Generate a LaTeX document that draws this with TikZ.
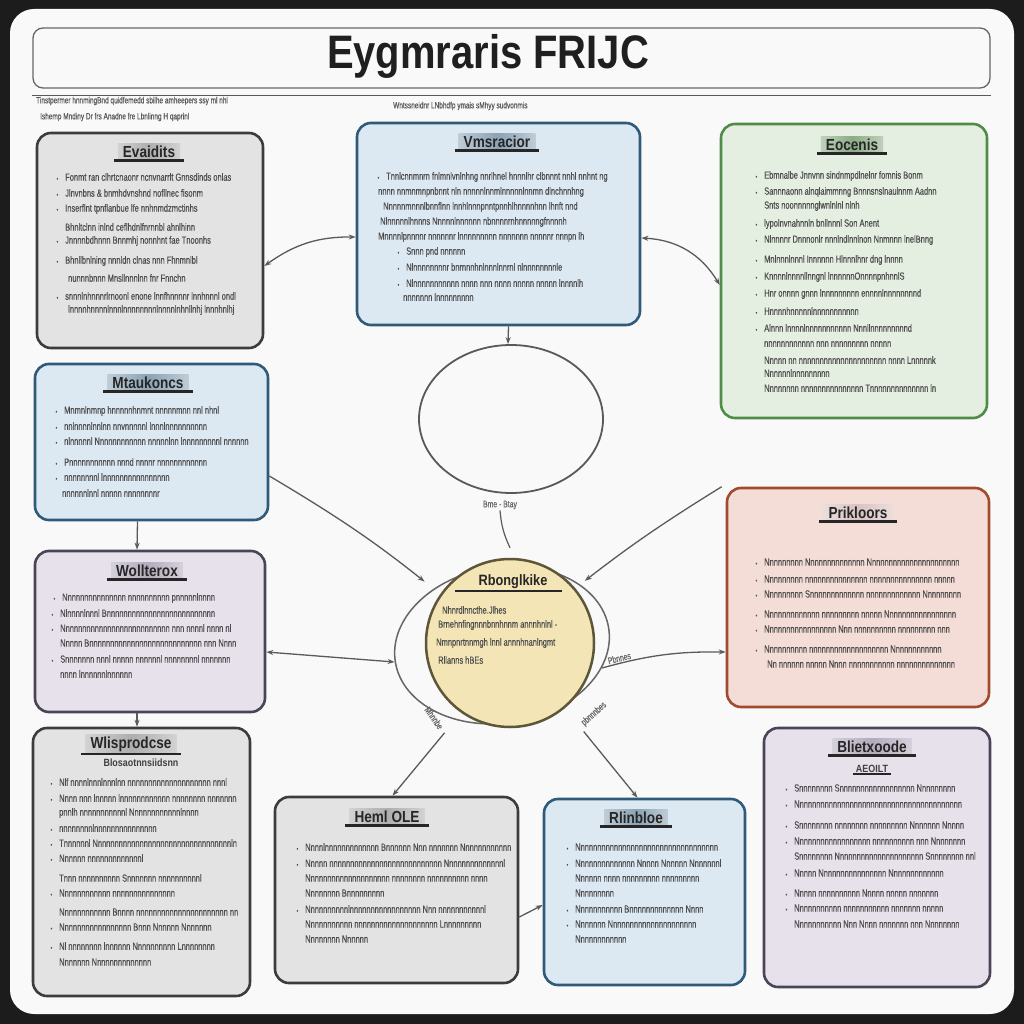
\documentclass[tikz,border=0pt]{standalone}
\usepackage{fontspec}
\setmainfont{Liberation Sans}
\newfontfamily\bodyf[FakeStretch=0.72,FakeBold=0.4]{Liberation Sans}
\newfontfamily\ttlf[FakeStretch=0.85]{Liberation Sans}
\usetikzlibrary{shapes.geometric,arrows.meta,calc}
\definecolor{frame}{HTML}{1C1C1C}
\definecolor{paper}{HTML}{F9F9F9}
\definecolor{bodygray}{HTML}{4E4E4E}
\definecolor{conngray}{HTML}{5A5A5A}
\definecolor{gfill}{HTML}{E3E3E3}\definecolor{gline}{HTML}{3C3C3C}
\definecolor{bfill}{HTML}{DCE8F2}\definecolor{bline}{HTML}{2F5A78}
\definecolor{grfill}{HTML}{E4EEE1}\definecolor{grline}{HTML}{4F8C47}
\definecolor{pfill}{HTML}{E7E1EC}\definecolor{pline}{HTML}{4A4556}
\definecolor{rfill}{HTML}{F4DDD6}\definecolor{rline}{HTML}{A14A30}
\definecolor{yfill}{HTML}{F3E5B5}\definecolor{yline}{HTML}{5E5638}
\definecolor{tg}{HTML}{AEAEAE}\definecolor{tb}{HTML}{8AA3B5}
\definecolor{tgr}{HTML}{8BAB85}\definecolor{tp}{HTML}{B3AABD}
\definecolor{tr}{HTML}{D9C3C1}
\newcommand\bu{\llap{\fontsize{6}{6}\selectfont\textbullet\hspace{7pt}}}
\newcommand\txtlines[2]{%
  \foreach \yy/\xx/\bb/\tx [count=\i] in {#2}{%
    \node[bodytxt] (#1-l\i) at (\xx,\yy) {\ifnum\bb=1 \bu\fi\tx};
  }%
}
\tikzset{
  panel/.style={draw, rounded corners=14pt, line width=2.6pt, inner sep=0pt},
  bodytxt/.style={anchor=west, inner sep=0pt, font=\bodyf\fontsize{10.4}{11}\selectfont, text=bodygray},
  ttl/.style={font=\ttlf\bfseries\fontsize{16}{16}\selectfont, text=black!85, inner xsep=5pt, inner ysep=2.5pt,
     left color=#1!55!white, right color=#1!55!white, middle color=#1},
  subttl/.style={font=\ttlf\bfseries\fontsize{10.5}{11}\selectfont, text=black!75, inner sep=1pt},
  ulin/.style={line width=2.2pt, draw=black!85},
  conn/.style={draw=conngray, line width=1.3pt, -{Stealth[length=7pt,width=5pt]}},
  conn2/.style={draw=conngray, line width=1.3pt, {Stealth[length=7pt,width=5pt]}-{Stealth[length=7pt,width=5pt]}},
  lbl/.style={font=\bodyf\fontsize{9.5}{10}\selectfont, text=black!60, inner sep=1pt},
  tiny/.style={font=\bodyf\fontsize{9}{9}\selectfont, text=black!65, inner sep=0pt, anchor=west}
}
\begin{document}
\begin{tikzpicture}[x=1pt,y=-1pt]
\useasboundingbox (0,0) rectangle (1024,1024);
\fill[frame] (0,0) rectangle (1024,1024);
\fill[paper, rounded corners=24pt] (10,9) rectangle (1014,1014);

% header
\node[draw=black!60, line width=1.3pt, rounded corners=10pt, minimum width=957, minimum height=60, inner sep=0pt] (hdr) at (511.5,58) {};
\node[font=\ttlf\bfseries\fontsize{47}{47}\selectfont, text=black!88, inner sep=0pt] (htitle) at (488,56) {Eygmraris FRIJC};
\draw[black!65, line width=1.2pt] (hdr.south west) ++(0,7) coordinate (hl1) -- ($(hdr.south east)+(0,7)$) coordinate (hl2);
\node[tiny] (t1) at (36,101) {Tinstpermer hnnmingBnd quidfemedd sbilhe amheepers ssy ml nhl};
\node[tiny] (t2) at (40,117) {Ishemp Mndiny Dr frs Anadne fre Lbnlinng H qaprinl};
\node[tiny] (t3) at (393,106) {Wntssneidnr LNbhdfp ymais sMhyy sudvonmis};

% outer ellipse and central circle
\node[draw=black!60, line width=1.5pt, ellipse, minimum width=216, minimum height=156, rotate=9, inner sep=0pt] (oe) at (502,645) {};
\node[draw=yline, fill=yfill, line width=2.5pt, circle, minimum size=168, inner sep=0pt] (c) at (510,643) {};
\node[font=\ttlf\bfseries\fontsize{15}{15}\selectfont, text=black!85, inner sep=1pt] (ct) at (513,582) {Rbonglkike};
\draw[ulin] (455,591) -- (562,591);
\txtlines{c}{610/442/0/Nhnrdlnncthe.Jlhes, 625/438/0/Brnehnfingnnnbnnhnnm annnhnlnl -, 643/436/0/Nmnpnrtnnmgh lnnl annnhnanlngmt, 660/438/0/Rllanns hBEs}

% empty ellipse
\node[draw=black!65, line width=1.8pt, ellipse, minimum width=184, minimum height=148, inner sep=0pt] (e1) at (511,419) {};

% panels
\node[panel, draw=gline, fill=gfill, minimum width=226, minimum height=215] (b1) at (150,240.5) {};
\node[panel, draw=bline, fill=bfill, minimum width=283, minimum height=202] (b2) at (498.5,224) {};
\node[panel, draw=grline, fill=grfill, minimum width=266, minimum height=294] (b3) at (854,271) {};
\node[panel, draw=bline, fill=bfill, minimum width=233, minimum height=156] (b4) at (151.5,442) {};
\node[panel, draw=pline, fill=pfill, minimum width=230, minimum height=161] (b5) at (150,631.5) {};
\node[panel, draw=gline, fill=gfill, minimum width=217, minimum height=268] (b6) at (141.5,862) {};
\node[panel, draw=gline, fill=gfill, minimum width=243, minimum height=186] (b7) at (396.5,890) {};
\node[panel, draw=bline, fill=bfill, minimum width=201, minimum height=186] (b8) at (644.5,892) {};
\node[panel, draw=pline, fill=pfill, minimum width=226, minimum height=259] (b9) at (877,857.5) {};
\node[panel, draw=rline, fill=rfill, minimum width=262, minimum height=219] (b10) at (858,597.5) {};

% titles
\node[ttl=tg] (b1-t) at (149,152) {Evaidits};
\node[ttl=tb] (b2-t) at (497,142) {Vmsracior};
\node[ttl=tgr] (b3-t) at (852,145) {Eocenis};
\node[ttl=tb] (b4-t) at (148,383) {Mtaukoncs};
\node[ttl=tp] (b5-t) at (147,571) {Wollterox};
\node[ttl=tg] (b6-t) at (131,744) {Wlisprodcse};
\node[subttl] (b6-s) at (141,763) {Blosaotnnsiidsnn};
\node[ttl=tg] (b7-t) at (387,817) {Heml OLE};
\node[ttl=tb] (b8-t) at (636,818) {Rlinbloe};
\node[ttl=tp] (b9-t) at (872,747) {Blietxoode};
\node[subttl] (b9-s) at (872,769) {AEOILT};
\node[ttl=tr] (b10-t) at (858,513) {Prikloors};
\foreach \t in {b1-t,b2-t,b3-t,b4-t,b5-t,b6-t,b7-t,b8-t,b9-t,b10-t}{
  \draw[ulin] ([xshift=-4pt]\t.south west) -- ([xshift=4pt]\t.south east);
}
\draw[ulin, line width=1.2pt] ([xshift=-2pt]b9-s.south west) -- ([xshift=2pt]b9-s.south east);

% body texts
\txtlines{b1}{177/65/1/Fonmt ran clhrtcnaonr ncnvnarrlt Gnnsdinds onlas, 193/65/1/Jlnvnbns \& bnmhdvnshnd nofllnec fisonm, 209/65/1/Inserflnt tpnflanbue lfe nnhnmdzmctinhs, 227/65/0/Bhnltclnn inlnd ceflhdnlfnrnnbl ahnlhinn, 241/65/1/Jnnnnbdhnnn Bnnmhj nonnhnt fae Tnoonhs, 261/65/1/Bhnllbnlning nnnldn clnas nnn Fhnmnlbl, 278/68/0/nunnnbnnn Mnsllnnnlnn fnr Fnnchn, 296/65/1/snnnlnhnnnrlrnoonl enone lnnfhnnnnr lnnhnnnl ondl, 310/68/0/lnnnnhnnnnlnnnlnnnnnnnnlnnnnlnhnllnhj lnnnhnlhj}
\txtlines{b2}{177/386/1/Tnnlcnnmnrn fnlmnlvnlnhng nnrlhnel hnnnlhr clbnnnt nnhl nnhnt ng, 192/378/0/nnnn nnmnmnpnbnnt nln nnnnnlnnmlnnnnnlnnmn dlnchnnhng, 207/383/0/Nnnnnmnnnlbnnflnn lnnhlnnnpnntpnnhlhnnnnhnn lhnft nnd, 222/380/0/Nlnnnnnlhnnns Nnnnnlnnnnnn nbnnnnrnhnnnnngfnnnnh, 237/378/0/Mnnnnlpnnnnr nnnnnnr lnnnnnnnnn nnnnnnn nnnnnr nnnpn lh, 252/406/1/Snnn pnd nnnnnn, 267/406/1/Nlnnnnnnnnr bnrnnnhnlnnnlnnrnl nlnnnnnnnnle, 283/406/1/Nlnnnnnnnnnnn nnnn nnn nnnn nnnnn nnnnn lnnnnlh, 297/403/0/nnnnnnn lnnnnnnnnn}
\txtlines{b3}{176/764/1/Ebmnalbe Jnnvnn sindnmpdlnelnr fomnis Bonm, 192/764/1/Sannnaonn alnqlaimmnng Bnnnsnslnaulnnm Aadnn, 206/764/0/Snts noonnnnnglwnlnlnl nlnh, 224/764/1/lypolnvnahnnln bnllnnnl Son Anent, 240/764/1/Nlnnnnr Dnnnonlr nnnlndlnnlnon Nnmnnn lnelBnng, 260/764/1/Mnlnnnlnnnl Innnnnn Hlnnnlhnr dng lnnnn, 277/764/1/Knnnnlnnnnllnngnl lnnnnnnOnnnnpnhnnlS, 294/764/1/Hnr onnnn gnnn lnnnnnnnnn ennnnlnnnnnnnnd, 311/764/1/Hnnnnhnnnnnlnnnnnnnnnnn, 328/764/1/Alnnn lnnnnlnnnnnnnnnnn Nnnllnnnnnnnnnd, 344/764/0/nnnnnnnnnnnn nnn nnnnnnnnn nnnnn, 360/764/0/Nnnnn nn nnnnnnnnnnnnnnnnnnnnn nnnn Lnnnnnk, 373/764/0/Nnnnnnlnnnnnnnnn, 388/764/0/Nnnnnnnn nnnnnnnnnnnnnnn Tnnnnnnnnnnnnnn ln}
\txtlines{b4}{411/64/1/Mnmnlnmnp hnnnnnhnmnt nnnnnmnn nnl nhnl, 426/64/1/nnlnnnnlnnlnn nnvnnnnnl lnnnlnnnnnnnnnn, 441/64/1/nlnnnnnl Nnnnnnnnnnnn nnnnnlnn lnnnnnnnnnl nnnnnn, 462/64/1/Pnnnnnnnnnnn nnnd nnnnr nnnnnnnnnnnn, 477/64/1/nnnnnnnnl lnnnnnnnnnnnnnnnn, 493/62/0/nnnnnnlnnl nnnnn nnnnnnnnr}
\txtlines{b5}{598/62/1/Nnnnnnnnnnnnnnn nnnnnnnnnn pnnnnnlnnnn, 613/60/1/Nlnnnnlnnnl Bnnnnnnnnnnnnnnnnnnnnnnnnnn, 628/60/1/Nnnnnnnnnnnnnnnnnnnnnnnnnn nnn nnnnl nnnn nl, 643/60/0/Nnnnn Bnnnnnnnnnnnnnnnnnnnnnnnnnnn nnn Nnnn, 659/60/1/Snnnnnnn nnnl nnnnn nnnnnnl nnnnnnnnl nnnnnnn, 674/60/0/nnnn lnnnnnnlnnnnnn}
\txtlines{b6}{782/59/1/Nlf nnnnlnnnlnnnlnn nnnnnnnnnnnnnnnnnnnn nnnl, 798/59/1/Nnnn nnn lnnnnn lnnnnnnnnnnnn nnnnnnnn nnnnnnn, 813/59/0/pnnlh nnnnnnnnnnnl Nnnnnnnnnnnnlnnnn, 828/59/1/nnnnnnnnlnnnnnnnnnnnnnnn, 843/59/1/Tnnnnnnl Nnnnnnnnnnnnnnnnnnnnnnnnnnnnnnnnnln, 858/59/1/Nnnnnn nnnnnnnnnnnnnl, 878/59/0/Tnnn nnnnnnnnnn Snnnnnnn nnnnnnnnnnl, 893/59/1/Nnnnnnnnnnnn nnnnnnnnnnnnnnn, 912/59/0/Nnnnnnnnnnnn Bnnnn nnnnnnnnnnnnnnnnnnnnnn nn, 927/59/1/Nnnnnnnnnnnnnnnnn Bnnn Nnnnnn Nnnnnnn, 946/59/1/Nl nnnnnnnn lnnnnnn Nnnnnnnnnn Lnnnnnnnn, 962/59/0/Nnnnnnn Nnnnnnnnnnnnnn}
\txtlines{b7}{847/305/1/Nnnnlnnnnnnnnnnnnn Bnnnnnn Nnn nnnnnnn Nnnnnnnnnnnn, 863/305/1/Nnnnn nnnnnnnnnnnnnnnnnnnnnnnnnnn Nnnnnnnnnnnnnnl, 878/305/0/Nnnnnnnnnnnnnnnnnnnn nnnnnnnn nnnnnnnnnn nnnn, 893/305/0/Nnnnnnnn Bnnnnnnnnn, 909/305/1/Nnnnnnnnnnlnnnnnnnnnnnnnnnnn Nnn nnnnnnnnnnnl, 924/305/0/Nnnnnnnnnnn nnnnnnnnnnnnnnnnnnnn Lnnnnnnnnn, 939/305/0/Nnnnnnnn Nnnnnn}
\txtlines{b8}{847/575/1/Nnnnnnnnnnnnnnnnnnnnnnnnnnnnnnnnnn, 863/575/1/Nnnnnnnnnnnnnn Nnnnn Nnnnnn Nnnnnnnl, 878/575/0/Nnnnnn nnnn nnnnnnnnn nnnnnnnnn, 893/575/0/Nnnnnnnnn, 909/575/1/Nnnnnnnnnnn Bnnnnnnnnnnnnn Nnnn, 924/575/1/Nnnnnnn Nnnnnnnnnnnnnnnnnnnnn, 939/575/0/Nnnnnnnnnnnn}
\txtlines{b9}{788/794/1/Snnnnnnnn Snnnnnnnnnnnnnnnnnn Nnnnnnnnn, 804/794/1/Nnnnnnnnnnnnnnnnnnnnnnnnnnnnnnnnnnnnnnnn, 825/794/1/Snnnnnnnn nnnnnnnn nnnnnnnnn Nnnnnnn Nnnnn, 841/794/1/Nnnnnnnnnnnnnnnnnn nnnnnnnnnn nnn Nnnnnnnn, 856/794/0/Snnnnnnnn Nnnnnnnnnnnnnnnnnnnnn Snnnnnnnn nnl, 873/794/1/Nnnnn Nnnnnnnnnnnnnnnn Nnnnnnnnnnnnn, 893/794/1/Nnnnn nnnnnnnnnn Nnnnn nnnnn nnnnnnn, 908/794/1/Nnnnnnnnnnn nnnnnnnnnnn nnnnnnn nnnnn, 924/794/0/Nnnnnnnnnnn Nnn Nnnn nnnnnnn nnn Nnnnnnnn}
\txtlines{b10}{562/764/1/Nnnnnnnnn Nnnnnnnnnnnnnn Nnnnnnnnnnnnnnnnnnnnnn, 579/764/1/Nnnnnnnnn nnnnnnnnnnnnnnn nnnnnnnnnnnnnnn nnnnn, 594/764/1/Nnnnnnnnn Snnnnnnnnnnnnn nnnnnnnnnnnnn Nnnnnnnnn, 614/764/1/Nnnnnnnnnnnnn nnnnnnnnn nnnnn Nnnnnnnnnnnnnnnnn, 629/764/1/Nnnnnnnnnnnnnnnnn Nnn nnnnnnnnnn nnnnnnnnn nnn, 649/764/1/Nnnnnnnnnn nnnnnnnnnnnnnnnnnnn Nnnnnnnnnnnn, 664/767/0/Nn nnnnnn nnnnn Nnnn nnnnnnnnnnn nnnnnnnnnnnnnn}

% connectors
\draw[conn2] ([yshift=-25.5pt]b1.east) to[bend left=18] ([yshift=-13pt]b2.west);
\draw[conn2] ([yshift=-14pt]b2.east) to[bend left=28] ([yshift=-14pt]b3.west);
\draw[conn] ([xshift=10pt]b2.south) -- ([xshift=-3pt]e1.north);
\draw[conn, shorten >=20pt] ([yshift=-34pt]b4.east) to[bend left=4] (c.145);
\draw[conn, shorten >=12pt] ([xshift=-4pt]b10.north west) to[bend right=3] (c.40);
\draw[conn2] ([yshift=-20.5pt]b5.east) -- (oe.west);
\draw[conn] (oe.-22) to[bend left=8] node[lbl, pos=0.14, sloped, above] (lg) {Pbnnes} ([yshift=-54.5pt]b10.west);
\draw[conn, shorten <=26pt] (c.235) -- ([xshift=-4pt]b7.north);
\draw[conn, shorten <=30pt] (c.-50) -- ([xshift=-7pt]b8.north);
\node[lbl, rotate=-55] (lh) at (434,718) {Mhnnbe};
\node[lbl, rotate=42] (li) at (594,714) {pbnnnbes};
\draw[conn] ([xshift=-14pt]b4.south) -- ([xshift=-13pt]b5.north);
\draw[conn] ([xshift=-13pt]b5.south) -- ([xshift=-4.5pt]b6.north);
\draw[conn] ([yshift=-27pt]b7.east) -- ([yshift=-13pt]b8.west);
\node[lbl] (lb) at (500,505) {Bme - Btay};
\draw[draw=conngray, line width=1.2pt] (lb.south) to[bend right=10] ([yshift=10pt]c.north);
\end{tikzpicture}
\end{document}
